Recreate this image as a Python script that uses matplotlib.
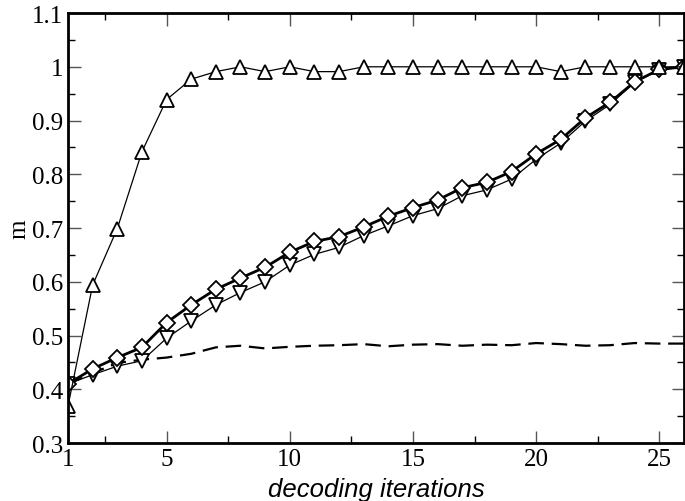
import numpy as np
import matplotlib.pyplot as plt
from matplotlib.ticker import FuncFormatter

# iterations 1..26
iters = np.arange(1, 27)

# triangle-up series
m_up = [0.369, 0.594, 0.699, 0.842, 0.939, 0.977, 0.991, 1.0, 0.991, 1.0,
        0.991, 0.991, 1.0, 1.0, 1.0, 1.0, 1.0, 1.0, 1.0, 1.0,
        0.991, 1.0, 1.0, 1.0, 1.0, 1.0]

# diamond series (thick line)
m_diamond = [0.41, 0.438, 0.459, 0.478, 0.524, 0.557, 0.586, 0.607, 0.627, 0.655,
             0.675, 0.684, 0.702, 0.722, 0.738, 0.752, 0.775, 0.785, 0.805, 0.838,
             0.865, 0.905, 0.934, 0.972, 0.995, 1.0]

# triangle-down series
m_down = [0.41, 0.427, 0.443, 0.453, 0.495, 0.527, 0.557, 0.580, 0.600, 0.631,
          0.651, 0.664, 0.686, 0.704, 0.723, 0.736, 0.760, 0.771, 0.791, 0.828,
          0.858, 0.899, 0.930, 0.971, 0.994, 1.0]

# dashed reference line
m_dashed = [0.41, 0.43, 0.449, 0.455, 0.459, 0.466, 0.478, 0.481, 0.476, 0.479,
            0.481, 0.482, 0.484, 0.480, 0.483, 0.484, 0.481, 0.483, 0.482, 0.486,
            0.484, 0.481, 0.482, 0.486, 0.485, 0.485]

xticks = [1, 5, 10, 15, 20, 25]
yticks = [0.3, 0.4, 0.5, 0.6, 0.7, 0.8, 0.9, 1.0, 1.1]

plt.rcParams['font.family'] = 'Liberation Serif'

fig = plt.figure(figsize=(6.85, 5.02), dpi=100)
ax = fig.add_axes([0.0993, 0.1155, 0.8992, 0.8565])

ax.plot(iters, m_dashed, color='black', linestyle=(0, (7, 3.5)), linewidth=1.6)
ax.plot(iters, m_down, color='black', linewidth=0.9, marker='v', markersize=10,
        markerfacecolor='white', markeredgewidth=1.3)
ax.plot(iters, m_diamond, color='black', linewidth=2, marker='D', markersize=8,
        markerfacecolor='white', markeredgewidth=1.3)
ax.plot(iters, m_up, color='black', linewidth=0.9, marker='^', markersize=10,
        markerfacecolor='white', markeredgewidth=1.3)

ax.set_xlim(1, 26)
ax.set_ylim(0.3, 1.1)
ax.set_xticks(xticks)
ax.set_xticks([2.5, 7.5, 12.5, 17.5, 22.5], minor=True)
ax.set_yticks(yticks)
ax.set_yticks(np.arange(0.35, 1.1, 0.1), minor=True)
ax.yaxis.set_major_formatter(FuncFormatter(lambda v, p: f'{v:g}'))

ax.tick_params(which='both', direction='in', top=True, right=True, labelsize=18, width=1)
ax.tick_params(which='major', length=9, color='#555555')
ax.tick_params(which='minor', length=5)
for s in ax.spines.values():
    s.set_linewidth(2)

ax.set_xlabel('decoding iterations', family='Liberation Sans', style='italic',
              fontsize=18.5, labelpad=5)
ax.set_ylabel('m', fontsize=18, labelpad=1)

fig.savefig('out.png', dpi=100)
